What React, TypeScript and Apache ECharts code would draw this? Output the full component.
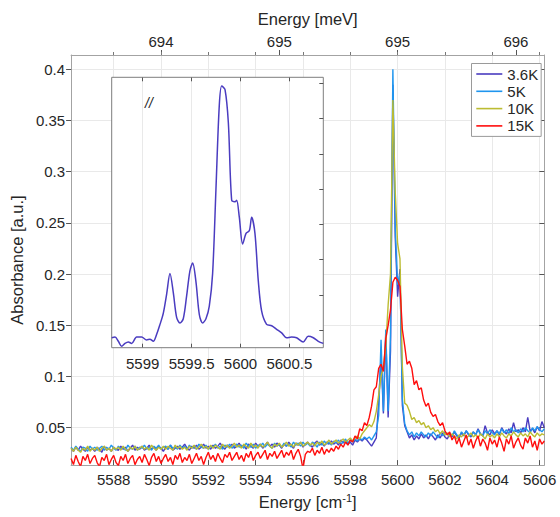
import React, { useEffect, useRef } from "react";
import * as echarts from "echarts";

// ---- axes ----
const X_MIN = 5586.2;
const X_MAX = 5606.2;
const Y_MIN = 0.0135;
const Y_MAX = 0.414;
const bottomTicks = [5588, 5590, 5592, 5594, 5596, 5598, 5600, 5602, 5604, 5606];
const topTicks = [5590, 5595, 5600, 5605];
const topTickLabels = ["694", "695", "695", "696"];
const yTicks = [0.05, 0.1, 0.15, 0.2, 0.25, 0.3, 0.35, 0.4];

// inset axes
const INSET_X_MIN = 5598.683;
const INSET_X_MAX = 5600.847;
const INSET_Y_MIN = 0.0249;
const INSET_Y_MAX = 0.4085;
const insetXTicks = [5599, 5599.5, 5600, 5600.5];
const insetYTicks = [0.05, 0.1, 0.15, 0.2, 0.25, 0.3, 0.35, 0.4];

// ---- series (sampled every 0.1 cm^-1 starting at 5586.2) ----
const SAMPLE_START = 5586.2;
const SAMPLE_STEP = 0.1;
const seriesNames = ["3.6K", "5K", "10K", "15K"];
const seriesColors = ["#4a3cc0", "#1f95ee", "#bcbc32", "#ff0d0d"];

const abs36K = [
  .030,.027,.031,.028,.032,.029,.027,.031,.028,.030,
  .027,.031,.029,.026,.032,.028,.030,.027,.031,.029,
  .028,.032,.029,.031,.027,.030,.033,.028,.031,.029,
  .032,.028,.030,.033,.029,.031,.028,.032,.030,.027,
  .031,.029,.033,.028,.030,.032,.029,.031,.034,.030,
  .028,.032,.030,.033,.029,.031,.034,.030,.032,.029,
  .033,.030,.032,.035,.031,.029,.033,.031,.034,.030,
  .032,.035,.031,.033,.029,.034,.032,.030,.035,.032,
  .034,.030,.033,.036,.032,.034,.031,.035,.033,.030,
  .034,.032,.036,.033,.030,.035,.033,.036,.031,.034,
  .036,.033,.031,.035,.037,.033,.035,.032,.036,.034,
  .037,.034,.036,.033,.038,.035,.037,.034,.036,.033,
  .038,.036,.039,.037,.040,.038,.035,.032,.036,.040,
  .075,.120,.064,.142,.060,.125,.385,.236,.178,.205,
  .072,.052,.046,.040,.043,.038,.042,.039,.044,.040,
  .043,.039,.044,.041,.038,.043,.040,.045,.041,.039,
  .044,.041,.046,.042,.040,.045,.042,.047,.043,.041,
  .046,.043,.049,.044,.042,.052,.045,.043,.048,.044,
  .047,.043,.050,.046,.044,.049,.045,.055,.046,.048,
  .045,.050,.046,.060,.047,.049,.045,.051,.047,.056,
  .050,
];

const abs5K = [
  .031,.028,.032,.029,.027,.031,.030,.027,.032,.029,
  .031,.028,.030,.032,.028,.031,.029,.033,.030,.028,
  .032,.029,.031,.028,.033,.030,.029,.032,.028,.031,
  .030,.033,.029,.031,.028,.032,.030,.033,.029,.031,
  .032,.029,.033,.030,.031,.029,.033,.030,.032,.029,
  .033,.030,.032,.029,.034,.031,.030,.033,.029,.032,
  .031,.034,.030,.032,.029,.033,.031,.034,.030,.032,
  .034,.031,.033,.030,.035,.032,.031,.034,.030,.033,
  .032,.035,.031,.034,.032,.030,.035,.032,.034,.031,
  .035,.032,.034,.031,.036,.033,.035,.032,.036,.033,
  .035,.032,.036,.034,.031,.036,.033,.037,.034,.036,
  .033,.037,.035,.038,.034,.036,.039,.035,.038,.036,
  .039,.037,.040,.038,.041,.039,.041,.038,.042,.046,
  .062,.136,.066,.146,.066,.140,.400,.245,.190,.200,
  .078,.054,.047,.043,.046,.041,.045,.042,.046,.043,
  .041,.045,.042,.046,.043,.040,.045,.042,.046,.043,
  .045,.042,.047,.043,.041,.046,.043,.047,.044,.042,
  .046,.043,.048,.044,.042,.047,.044,.048,.045,.043,
  .047,.044,.049,.045,.048,.044,.050,.046,.048,.045,
  .049,.046,.050,.047,.045,.050,.047,.051,.048,.046,
  .049,
];

const abs10K = [
  .030,.027,.031,.028,.026,.030,.028,.032,.027,.030,
  .028,.031,.027,.030,.032,.028,.030,.027,.031,.029,
  .031,.028,.032,.029,.027,.031,.029,.032,.028,.030,
  .032,.029,.031,.028,.033,.030,.028,.031,.029,.032,
  .029,.032,.030,.028,.033,.030,.032,.029,.031,.028,
  .032,.030,.033,.029,.031,.034,.030,.032,.029,.033,
  .030,.033,.031,.029,.034,.031,.033,.030,.032,.035,
  .031,.033,.030,.034,.032,.030,.035,.031,.033,.030,
  .034,.031,.033,.036,.032,.030,.034,.032,.035,.031,
  .033,.036,.032,.034,.031,.035,.033,.036,.032,.034,
  .036,.033,.035,.032,.036,.034,.037,.033,.035,.038,
  .034,.036,.038,.035,.037,.039,.036,.038,.040,.037,
  .040,.042,.039,.044,.047,.050,.053,.051,.056,.066,
  .082,.100,.110,.130,.170,.200,.370,.280,.230,.215,
  .110,.074,.072,.066,.058,.060,.055,.057,.053,.055,
  .050,.052,.048,.050,.046,.048,.044,.047,.043,.045,
  .041,.044,.042,.039,.043,.041,.044,.040,.042,.045,
  .041,.043,.040,.044,.042,.039,.044,.041,.043,.040,
  .044,.041,.045,.042,.040,.044,.042,.046,.043,.041,
  .045,.042,.044,.041,.046,.043,.041,.045,.042,.044,
  .043,
];

const abs15K = [
  .020,.014,.023,.017,.012,.022,.018,.024,.015,.020,
  .023,.016,.012,.021,.018,.024,.014,.019,.023,.016,
  .013,.022,.018,.024,.015,.020,.023,.014,.019,.022,
  .016,.024,.019,.013,.021,.025,.017,.022,.015,.020,
  .024,.017,.021,.014,.023,.019,.025,.016,.021,.018,
  .024,.015,.020,.025,.018,.022,.014,.021,.026,.019,
  .023,.017,.025,.020,.016,.024,.021,.026,.018,.022,
  .026,.019,.023,.017,.025,.021,.027,.018,.023,.026,
  .020,.024,.028,.019,.025,.022,.027,.020,.024,.028,
  .021,.026,.023,.028,.019,.025,.029,.022,.010,.024,
  .027,.026,.030,.023,.028,.025,.031,.024,.029,.026,
  .030,.027,.032,.029,.034,.031,.036,.033,.038,.036,
  .042,.039,.049,.047,.055,.052,.060,.071,.087,.090,
  .108,.112,.105,.137,.150,.165,.192,.197,.194,.188,
  .146,.130,.112,.115,.108,.092,.096,.087,.089,.077,
  .071,.074,.065,.061,.063,.056,.052,.055,.047,.043,
  .046,.038,.042,.034,.040,.031,.037,.043,.033,.039,
  .030,.037,.042,.032,.039,.035,.028,.040,.034,.038,
  .031,.041,.035,.027,.039,.034,.042,.030,.036,.040,
  .033,.029,.040,.035,.042,.031,.037,.028,.039,.034,
  .037,
];

// inset: 3.6K trace, zoomed
const insetWavenumber = [
  5598.683, 5598.717, 5598.751, 5598.785, 5598.819, 5598.853, 5598.887, 5598.938, 5598.989, 5599.040,
  5599.074, 5599.108, 5599.143, 5599.177, 5599.211, 5599.245, 5599.279, 5599.313, 5599.347, 5599.381,
  5599.415, 5599.449, 5599.483, 5599.511, 5599.545, 5599.579, 5599.613, 5599.647, 5599.681, 5599.715,
  5599.749, 5599.783, 5599.808, 5599.842, 5599.876, 5599.910, 5599.944, 5599.961, 5599.988, 5600.022,
  5600.057, 5600.091, 5600.114, 5600.148, 5600.182, 5600.216, 5600.267, 5600.319, 5600.370, 5600.421,
  5600.472, 5600.523, 5600.574, 5600.642, 5600.693, 5600.745, 5600.796, 5600.847,
];
const insetAbs = [
  .039, .040, .034, .027, .031, .033, .031, .040, .040, .036,
  .037, .034, .044, .058, .074, .101, .130, .103, .068, .060,
  .066, .098, .134, .145, .118, .072, .060, .066, .084, .130,
  .249, .368, .396, .391, .344, .234, .232, .234, .210, .172,
  .187, .191, .210, .187, .120, .077, .058, .056, .051, .046,
  .039, .040, .039, .033, .041, .039, .034, .031,
];

const FONT = "'Liberation Sans', Arial, Helvetica, sans-serif";
const TEXT = "#262626";
const AXIS = "#a3a3a3";
const GRIDLINE = "#e9e9e9";

const fmt = (v: number) => String(v);

export default function App() {
  const ref = useRef<HTMLDivElement>(null);

  useEffect(() => {
    if (!ref.current) return;
    const chart = echarts.init(ref.current, null, { renderer: "svg" });

    const allAbs = [abs36K, abs5K, abs10K, abs15K];
    const mainSeries = allAbs.map((arr, k) => ({
      name: seriesNames[k],
      type: "line",
      xAxisIndex: 0,
      yAxisIndex: 0,
      data: arr.map((v, i) => [+(SAMPLE_START + i * SAMPLE_STEP).toFixed(1), v]),
      showSymbol: false,
      symbol: "none",
      lineStyle: { width: 1.4, color: seriesColors[k] },
      itemStyle: { color: seriesColors[k] },
      z: 2 + k * 0.01,
    }));

    const insetSeries = {
      name: "inset",
      type: "line",
      xAxisIndex: 3,
      yAxisIndex: 2,
      data: insetWavenumber.map((x, i) => [x, insetAbs[i]]),
      showSymbol: false,
      symbol: "none",
      smooth: 0.3,
      lineStyle: { width: 1.5, color: seriesColors[0] },
      z: 6,
    };

    const IL = 111.7, IT = 77.3, IW = 211.6, IH = 270.4;

    chart.setOption({
      animation: false,
      backgroundColor: "#ffffff",
      textStyle: { fontFamily: FONT, color: TEXT },
      grid: [
        { left: 68, top: 55, width: 476.3, height: 410.7, show: false },
        { left: IL, top: IT, width: IW, height: IH, show: false },
      ],
      legend: {
        data: seriesNames,
        orient: "vertical",
        left: 471.5,
        top: 63.5,
        padding: [3, 3, 3, 4],
        itemWidth: 26,
        itemHeight: 15,
        itemGap: 2.3,
        borderColor: "#9a9a9a",
        borderWidth: 1,
        borderRadius: 0,
        backgroundColor: "#ffffff",
        itemStyle: { opacity: 0, borderWidth: 0 },
        lineStyle: { width: 1.6 },
        textStyle: { fontSize: 15, color: TEXT, fontFamily: FONT },
      },
      xAxis: [
        {
          gridIndex: 0,
          type: "value",
          position: "bottom",
          min: X_MIN,
          max: X_MAX,
          splitNumber: 10,
          axisLine: { show: true, onZero: false, lineStyle: { color: AXIS, width: 1 } },
          axisTick: { show: true, inside: true, length: 5, customValues: bottomTicks, lineStyle: { color: "#555" } },
          axisLabel: { customValues: bottomTicks, formatter: fmt, fontSize: 15, margin: 7, color: TEXT, fontFamily: FONT },
          splitLine: { show: true, lineStyle: { color: GRIDLINE, width: 1 } },
          name: "Energy [cm{sup|-1}]",
          nameLocation: "middle",
          nameGap: 24,
          nameTextStyle: {
            fontSize: 16.5,
            color: TEXT,
            fontFamily: FONT,
            lineHeight: 20,
            rich: { sup: { fontSize: 11, lineHeight: 11, verticalAlign: "top", color: TEXT, fontFamily: FONT } },
          },
        },
        {
          gridIndex: 0,
          type: "value",
          position: "top",
          min: X_MIN,
          max: X_MAX,
          axisLine: { show: true, onZero: false, lineStyle: { color: AXIS, width: 1 } },
          axisTick: { show: true, inside: false, length: 5, customValues: topTicks, lineStyle: { color: "#555" } },
          axisLabel: {
            customValues: topTicks,
            formatter: (v: number) => {
              const i = topTicks.indexOf(v);
              return i >= 0 ? topTickLabels[i] : "";
            },
            fontSize: 15,
            margin: 6,
            color: TEXT,
            fontFamily: FONT,
          },
          splitLine: { show: false },
          name: "Energy [meV]",
          nameLocation: "middle",
          nameGap: 28,
          nameTextStyle: { fontSize: 16.5, color: TEXT, fontFamily: FONT },
        },
        {
          gridIndex: 0,
          type: "value",
          position: "top",
          min: X_MIN,
          max: X_MAX,
          axisLine: { show: false },
          axisTick: { show: true, inside: false, length: 3, customValues: bottomTicks, lineStyle: { color: "#777" } },
          axisLabel: { show: false },
          splitLine: { show: false },
        },
        {
          gridIndex: 1,
          type: "value",
          position: "bottom",
          min: INSET_X_MIN,
          max: INSET_X_MAX,
          z: 4,
          axisLine: { show: false, onZero: false },
          axisTick: { show: true, inside: true, length: 4, customValues: insetXTicks, lineStyle: { color: "#555" } },
          axisLabel: { customValues: insetXTicks, formatter: fmt, fontSize: 15, margin: 8, color: TEXT, fontFamily: FONT },
          splitLine: { show: true, lineStyle: { color: GRIDLINE, width: 1 } },
        },
        {
          gridIndex: 1,
          type: "value",
          position: "top",
          min: INSET_X_MIN,
          max: INSET_X_MAX,
          z: 4,
          axisLine: { show: false, onZero: false },
          axisTick: { show: true, inside: true, length: 4, customValues: insetXTicks, lineStyle: { color: "#555" } },
          axisLabel: { show: false },
          splitLine: { show: false },
        },
      ],
      yAxis: [
        {
          gridIndex: 0,
          type: "value",
          position: "left",
          min: Y_MIN,
          max: Y_MAX,
          splitNumber: 8,
          axisLine: { show: true, onZero: false, lineStyle: { color: AXIS, width: 1 } },
          axisTick: { show: true, inside: false, length: 5, customValues: yTicks, lineStyle: { color: "#555" } },
          axisLabel: { customValues: yTicks, formatter: fmt, fontSize: 15, margin: 6, color: TEXT, fontFamily: FONT },
          splitLine: { show: true, lineStyle: { color: GRIDLINE, width: 1 } },
          name: "Absorbance [a.u.]",
          nameLocation: "middle",
          nameGap: 38,
          nameTextStyle: { fontSize: 16.5, color: TEXT, fontFamily: FONT },
        },
        {
          gridIndex: 0,
          type: "value",
          position: "right",
          min: Y_MIN,
          max: Y_MAX,
          axisLine: { show: true, onZero: false, lineStyle: { color: AXIS, width: 1 } },
          axisTick: { show: true, inside: true, length: 5, customValues: yTicks, lineStyle: { color: "#555" } },
          axisLabel: { show: false },
          splitLine: { show: false },
        },
        {
          gridIndex: 1,
          type: "value",
          position: "right",
          min: INSET_Y_MIN,
          max: INSET_Y_MAX,
          z: 4,
          axisLine: { show: false, onZero: false },
          axisTick: { show: true, inside: true, length: 4, customValues: insetYTicks, lineStyle: { color: "#555" } },
          axisLabel: { show: false },
          splitLine: { show: false },
        },
      ],
      graphic: [
        {
          type: "rect",
          z: 1,
          shape: { x: IL, y: IT, width: IW, height: IH },
          style: { fill: "#ffffff", stroke: "#7d7d7d", lineWidth: 1 },
        },
        {
          type: "text",
          z: 5,
          x: 145,
          y: 96,
          style: { text: "//", fontSize: 14, fontStyle: "italic", fill: TEXT, fontFamily: FONT },
        },
      ],
      series: [...mainSeries, insetSeries],
    });

    return () => chart.dispose();
  }, []);

  return (
    <div
      ref={ref}
      style={{ position: "fixed", left: 0, top: 0, width: 560, height: 517, background: "#fff" }}
    />
  );
}
